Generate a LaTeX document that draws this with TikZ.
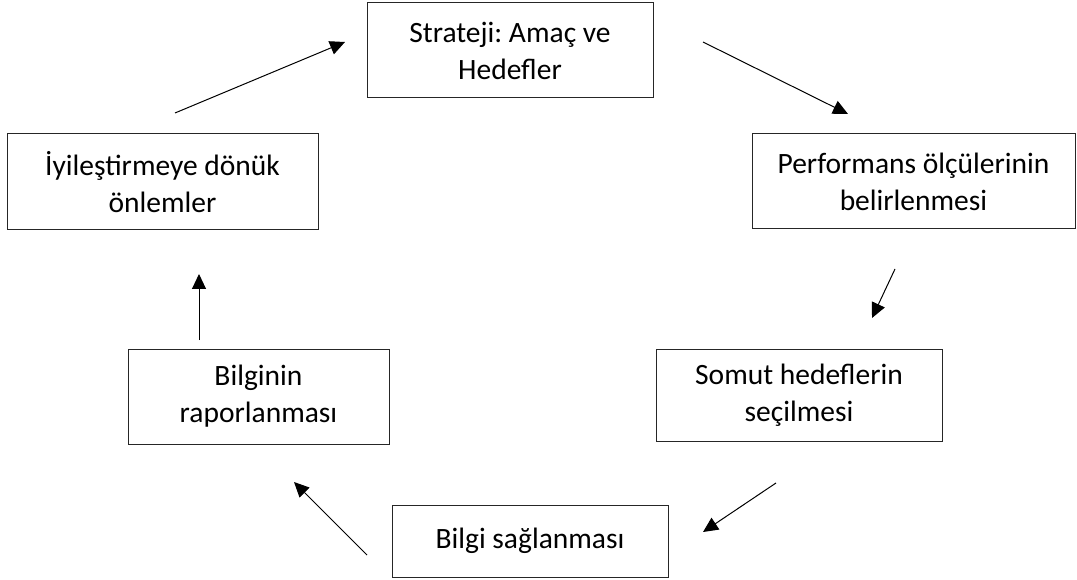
\documentclass[tikz,border=0pt]{standalone}
\usepackage{fontspec}
\setmainfont{Carlito}
\usetikzlibrary{arrows.meta,positioning}

\tikzset{
  kutu/.style={draw=black!85, line width=1pt, align=center, inner sep=0pt,
    font=\fontsize{29.5}{37}\selectfont\frenchspacing},
  ok/.style={-{Triangle[length=15pt,width=14pt]}, line width=1pt}
}

\begin{document}
\begin{tikzpicture}[x=1pt,y=-1pt]
		\useasboundingbox (0,0) rectangle (1077,580);
		
		% kutular
		\node[kutu, minimum width=286pt, minimum height=95pt] (strateji) at (510,50.5) {Strateji: Amaç ve\\Hedefler};
		\node[kutu, minimum width=323pt, minimum height=95pt] (olcu) at (913.5,181.5) {Performans ölçülerinin\\belirlenmesi};
		\node[kutu, minimum width=286pt, minimum height=92pt] (somut) at (799,395) {Somut hedeflerin\\seçilmesi};
		\node[kutu, minimum width=276pt, minimum height=72pt] (bilgi) at (530,541) {Bilgi sağlanması};
		\node[kutu, minimum width=261pt, minimum height=95pt] (rapor) at (258.5,396.5) {Bilginin\\raporlanması};
		\node[kutu, minimum width=311pt, minimum height=96pt] (onlem) at (162.5,182) {İyileştirmeye dönük\\önlemler};
		
		% oklar
		\coordinate (o1a) at (175,113); \coordinate (o1b) at (345,42);
		\coordinate (o2a) at (703,42);  \coordinate (o2b) at (848,114);
		\coordinate (o3a) at (895,269); \coordinate (o3b) at (872,318);
		\coordinate (o4a) at (776,483); \coordinate (o4b) at (703,532);
		\coordinate (o5a) at (367,555); \coordinate (o5b) at (294,482);
		\coordinate (o6a) at (199,340); \coordinate (o6b) at (199,274);
		\draw[ok] (o1a) -- (o1b);
		\draw[ok] (o2a) -- (o2b);
		\draw[ok] (o3a) -- (o3b);
		\draw[ok] (o4a) -- (o4b);
		\draw[ok] (o5a) -- (o5b);
		\draw[ok] (o6a) -- (o6b);
\end{tikzpicture}
\end{document}
